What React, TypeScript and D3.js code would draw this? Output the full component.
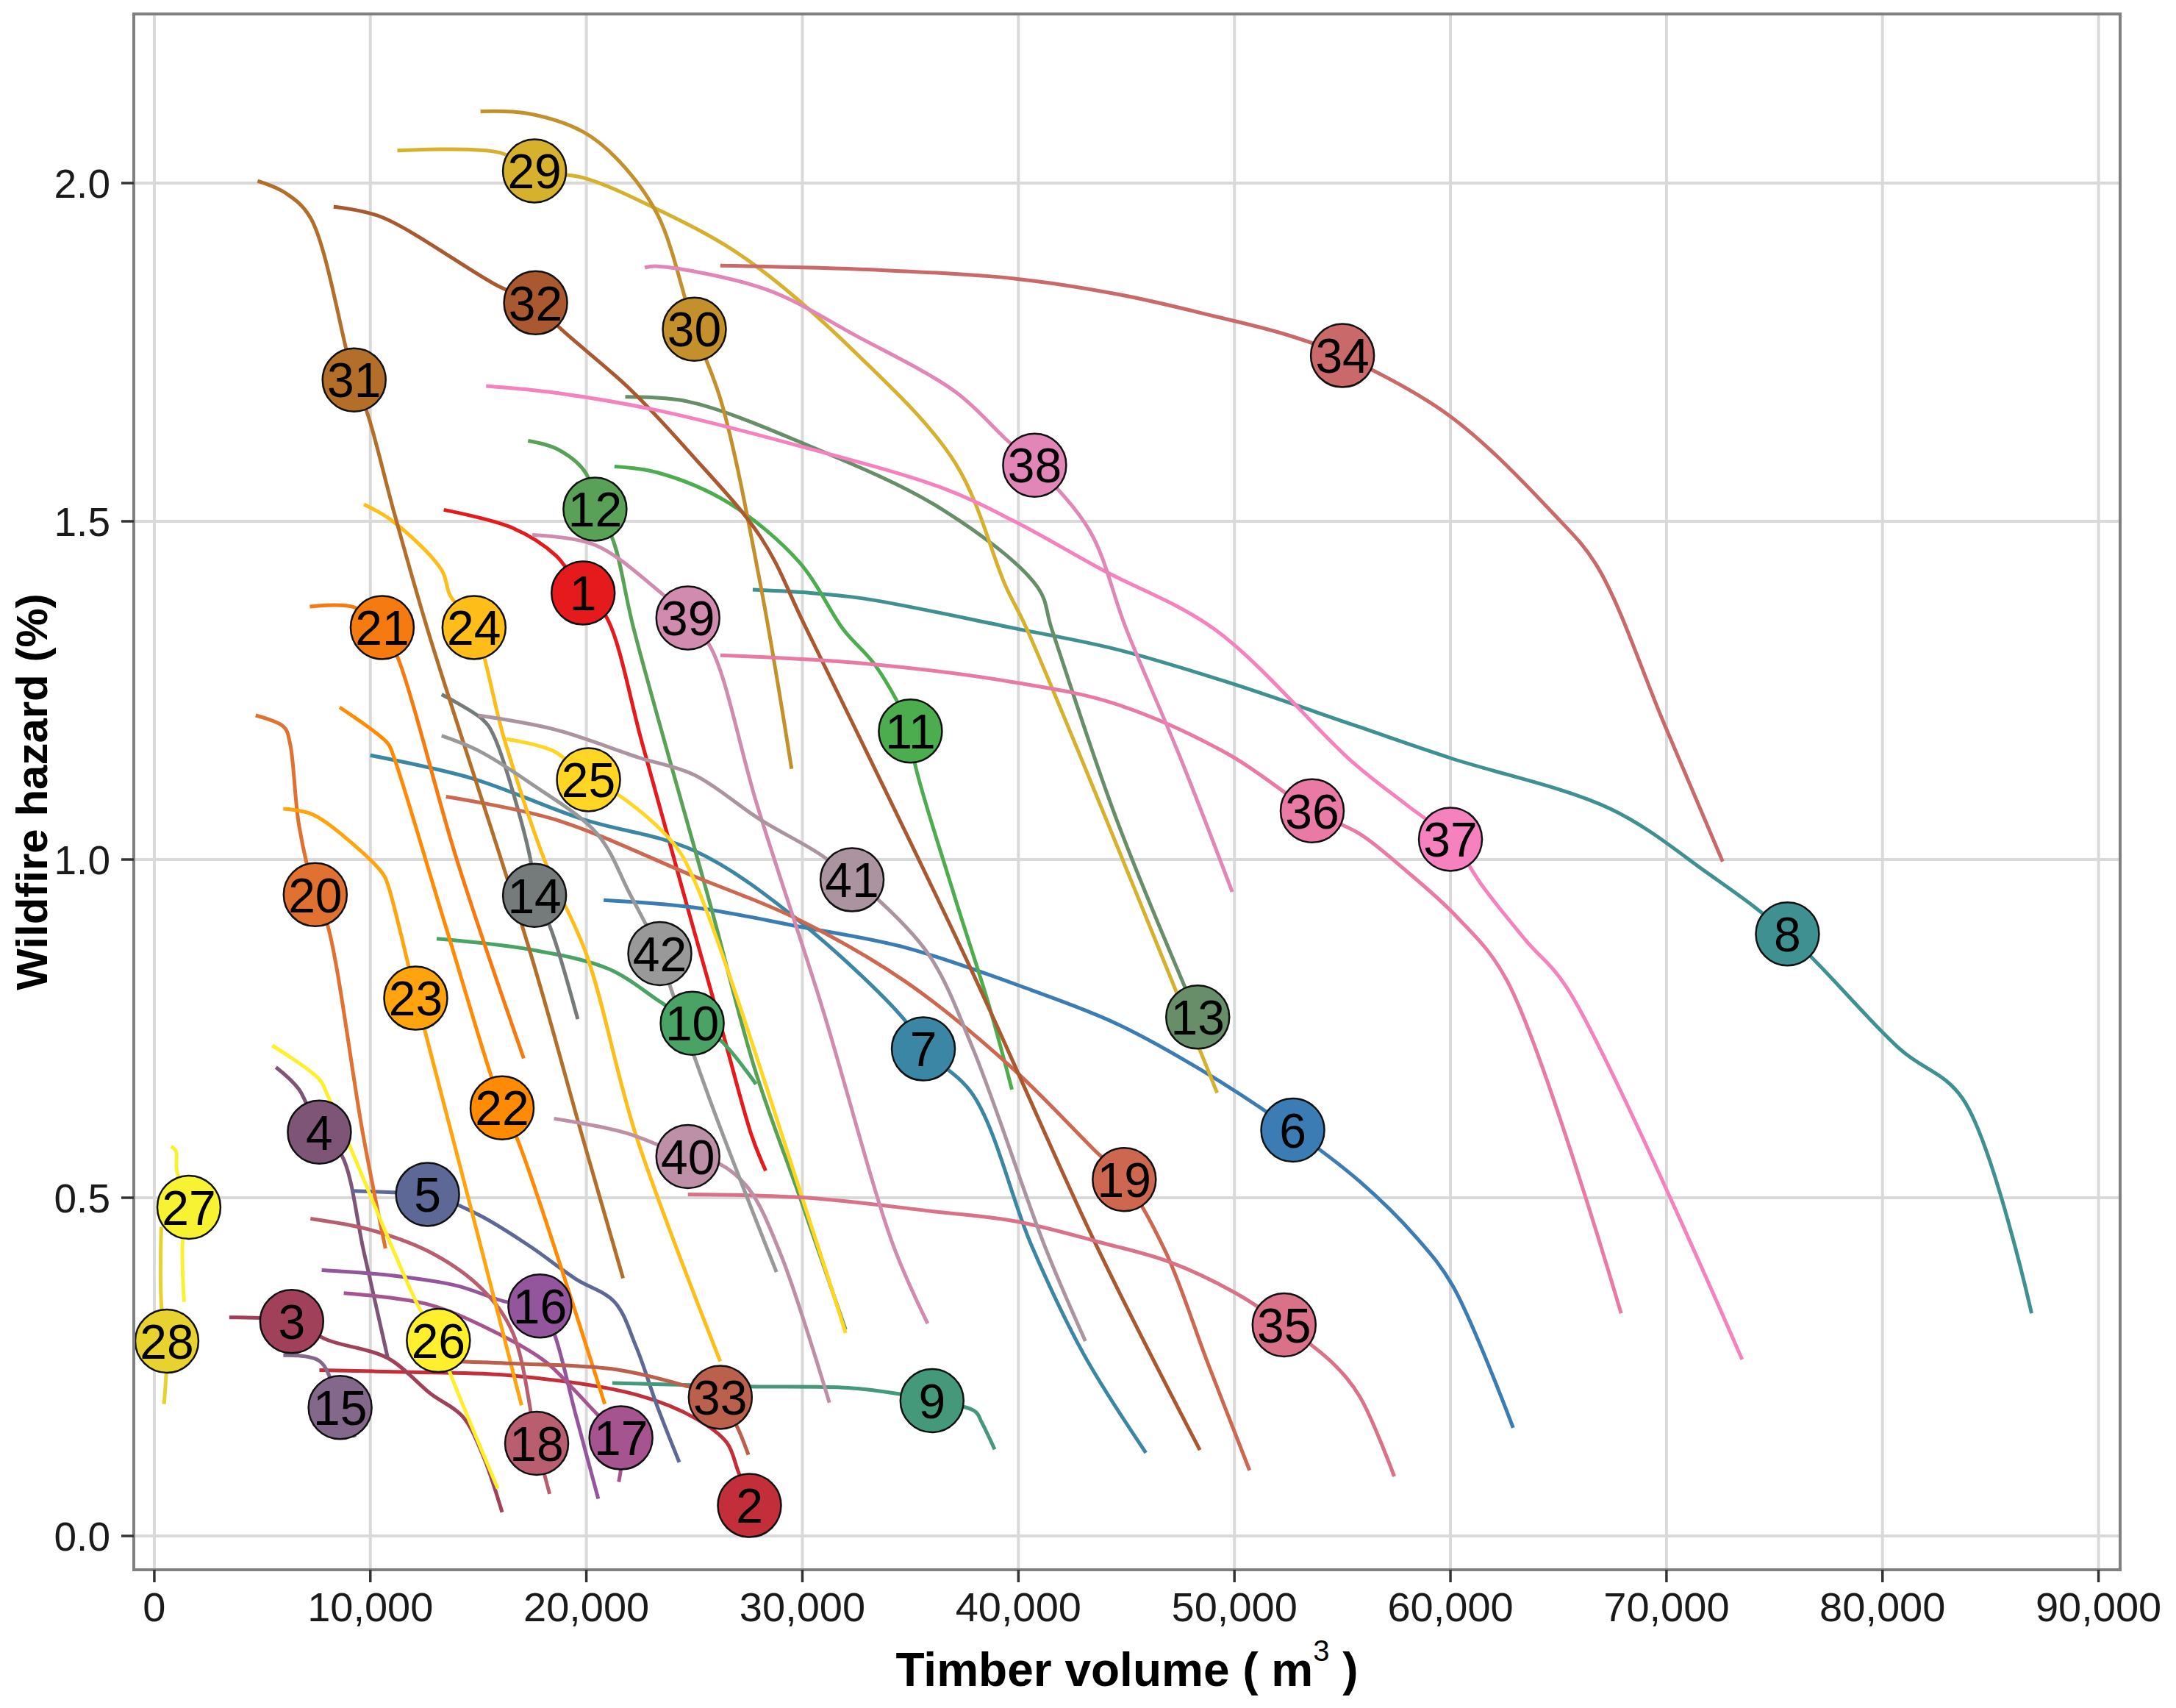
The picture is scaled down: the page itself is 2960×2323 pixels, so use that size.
import * as d3 from 'd3';

type Pt = [number, number];

// Tick values
const xTicks = [0, 10000, 20000, 30000, 40000, 50000, 60000, 70000, 80000, 90000];
const yTicks = [0, 0.5, 1, 1.5, 2];

// Curves: [timber volume m3, wildfire hazard %]
const c1: Pt[] = [[13400,1.517],[16600,1.49],[18600,1.449],[19850,1.394],[20900,1.36],[22600,1.17],[24500,0.95],[26350,0.74],[27650,0.592],[28300,0.54]];
const c2: Pt[] = [[7640,0.245],[12000,0.242],[16600,0.237],[22400,0.208],[25100,0.173],[26500,0.138],[27000,0.098],[27550,0.045]];
const c3: Pt[] = [[3470,0.323],[6360,0.317],[8000,0.29],[10800,0.263],[12800,0.21],[14260,0.177],[15200,0.12],[16100,0.035]];
const c4: Pt[] = [[5630,0.693],[6700,0.66],[7640,0.597],[8670,0.563],[9700,0.42],[10800,0.264]];
const c5: Pt[] = [[9120,0.51],[11000,0.508],[12650,0.505],[15000,0.475],[17400,0.428],[19500,0.38],[21300,0.346],[22300,0.28],[23300,0.19],[24300,0.109]];
const c6: Pt[] = [[20800,0.94],[25000,0.929],[30000,0.9],[34750,0.87],[40600,0.807],[44500,0.758],[48400,0.69],[52700,0.6],[55800,0.524],[58400,0.442],[60100,0.37],[62900,0.16]];
const c7: Pt[] = [[10000,1.154],[14700,1.12],[19800,1.06],[25000,1.013],[29700,0.913],[34700,0.764],[35600,0.72],[37900,0.652],[40600,0.43],[43000,0.27],[45900,0.123]];
const c8: Pt[] = [[27700,1.399],[30000,1.395],[32800,1.386],[39800,1.342],[44500,1.311],[49700,1.262],[55500,1.199],[60000,1.15],[67400,1.075],[71900,0.98],[75600,0.89],[80800,0.72],[83700,0.647],[86900,0.329]];
const c9: Pt[] = [[21200,0.226],[27500,0.221],[32100,0.219],[34450,0.21],[36000,0.2],[38000,0.184],[38300,0.168],[38900,0.128]];
const c10: Pt[] = [[13070,0.883],[17400,0.867],[21050,0.838],[23400,0.79],[24900,0.758],[26200,0.733],[27850,0.668]];
const c11: Pt[] = [[21300,1.581],[23300,1.572],[26600,1.527],[29900,1.438],[31900,1.34],[33400,1.286],[35000,1.19],[35200,1.143],[37000,0.95],[38650,0.783],[39700,0.66]];
const c12: Pt[] = [[17300,1.619],[18700,1.606],[20000,1.57],[20400,1.518],[21200,1.475],[22200,1.34],[25800,0.926],[27800,0.69],[30000,0.49],[32000,0.305]];
const c13: Pt[] = [[21800,1.684],[24700,1.677],[29900,1.617],[36500,1.517],[40900,1.402],[41550,1.34],[44500,1.063],[48300,0.767]];
const c14: Pt[] = [[13300,1.244],[15200,1.207],[15700,1.184],[17400,1.002],[17600,0.947],[18300,0.902],[19600,0.764]];
const c15: Pt[] = [[5970,0.267],[7670,0.258],[8600,0.19],[9300,0.146]];
const c16: Pt[] = [[7750,0.393],[11000,0.385],[14000,0.37],[16300,0.346],[17850,0.34],[18500,0.3],[19500,0.18],[20550,0.055]];
const c17: Pt[] = [[8770,0.359],[12600,0.343],[15550,0.305],[18100,0.258],[19400,0.217],[20500,0.18],[21600,0.145],[21500,0.08]];
const c18: Pt[] = [[7230,0.469],[10050,0.452],[12970,0.416],[15200,0.364],[16600,0.3],[17700,0.137],[18300,0.062]];
const c19: Pt[] = [[13500,1.093],[18560,1.059],[25000,0.975],[29700,0.913],[34750,0.82],[39600,0.695],[43500,0.571],[44900,0.527],[46800,0.421],[48750,0.257],[50700,0.097]];
const c20: Pt[] = [[4690,1.213],[6000,1.196],[6280,1.172],[6700,1.05],[7450,0.948],[8030,0.902],[9670,0.592],[10700,0.425]];
const c21: Pt[] = [[7200,1.374],[9250,1.373],[10550,1.343],[11300,1.296],[14000,1.0],[17100,0.706]];
const c22: Pt[] = [[8580,1.225],[10800,1.172],[11050,1.155],[13500,0.9],[16100,0.633],[16800,0.587],[20850,0.195]];
const c23: Pt[] = [[5970,1.075],[7300,1.067],[9300,1.02],[10600,0.978],[10800,0.964],[11700,0.852],[12100,0.795],[12500,0.75],[17000,0.193]];
const c24: Pt[] = [[9700,1.525],[11000,1.501],[13300,1.428],[13700,1.39],[14800,1.343],[16200,1.178],[18100,0.996],[20000,0.86],[22300,0.592],[26200,0.258]];
const c25: Pt[] = [[16300,1.178],[18500,1.16],[20100,1.118],[21600,1.093],[24000,1.025],[25000,0.969],[30700,0.43],[32000,0.3]];
const c26: Pt[] = [[5460,0.725],[7640,0.675],[8030,0.651],[9000,0.58],[12200,0.341],[13150,0.289],[13700,0.24],[15900,0.07]];
const c27: Pt[] = [[770,0.576],[1000,0.569],[1040,0.54],[1600,0.486],[1320,0.44],[1380,0.346]];
const c28: Pt[] = [[320,0.457],[330,0.34],[580,0.288],[450,0.195]];
const c29: Pt[] = [[11250,2.048],[16000,2.045],[17600,2.018],[19840,2.008],[23300,1.961],[27300,1.89],[32500,1.748],[37100,1.585],[39400,1.405],[40400,1.34],[49200,0.655]];
const c30: Pt[] = [[15100,2.106],[17270,2.103],[19840,2.076],[21440,2.035],[23300,1.953],[25000,1.784],[26260,1.675],[28050,1.408],[29500,1.134]];
const c31: Pt[] = [[4780,2.003],[6090,1.985],[7240,1.948],[9250,1.709],[9870,1.659],[11100,1.513],[12650,1.34],[17400,0.863],[19800,0.592],[21700,0.381]];
const c32: Pt[] = [[8300,1.965],[10500,1.95],[15900,1.848],[17650,1.823],[18700,1.788],[22000,1.696],[24800,1.601],[28100,1.475],[30200,1.34],[37700,0.845],[43600,0.43],[48400,0.127]];
const c33: Pt[] = [[14000,0.258],[16600,0.255],[21400,0.246],[24700,0.221],[26200,0.205],[27000,0.16],[27500,0.12]];
const c34: Pt[] = [[26200,1.878],[33200,1.872],[39750,1.859],[44700,1.835],[49100,1.803],[52500,1.775],[55000,1.745],[60000,1.655],[64800,1.51],[66800,1.433],[69900,1.2],[72600,0.997]];
const c35: Pt[] = [[24700,0.505],[30200,0.5],[36000,0.48],[39900,0.465],[43800,0.434],[47000,0.405],[50000,0.36],[52300,0.312],[54500,0.257],[55800,0.206],[57400,0.088]];
const c36: Pt[] = [[26200,1.302],[32800,1.29],[39800,1.262],[44500,1.23],[49700,1.156],[53600,1.072],[55800,1.038],[57700,0.99],[60300,0.915],[62600,0.822],[67900,0.329]];
const c37: Pt[] = [[15360,1.7],[18560,1.69],[23300,1.664],[29900,1.611],[36500,1.549],[39750,1.501],[43900,1.428],[49100,1.34],[55500,1.143],[58000,1.08],[60000,1.03],[61500,0.96],[63500,0.88],[65400,0.81],[73500,0.261]];
const c38: Pt[] = [[22700,1.875],[23300,1.877],[28300,1.843],[32500,1.774],[37100,1.691],[39400,1.622],[40750,1.583],[43300,1.486],[45000,1.34],[47500,1.15],[49900,0.952]];
const c39: Pt[] = [[17500,1.48],[20400,1.465],[23200,1.401],[24700,1.357],[25800,1.311],[27900,1.081],[30900,0.783],[34200,0.43],[35800,0.314]];
const c40: Pt[] = [[18500,0.617],[21800,0.596],[24700,0.561],[26100,0.551],[27500,0.514],[29000,0.416],[31250,0.197]];
const c41: Pt[] = [[15000,1.213],[18560,1.192],[22400,1.151],[25000,1.125],[28000,1.06],[30900,1.006],[32300,0.97],[33600,0.938],[35900,0.857],[37900,0.72],[41200,0.43],[43100,0.288]];
const c42: Pt[] = [[13300,1.183],[15000,1.161],[17400,1.113],[20500,1.038],[22000,0.95],[23400,0.861],[23800,0.82],[25700,0.646],[28800,0.39]];

const curves = [c1,c2,c3,c4,c5,c6,c7,c8,c9,c10,c11,c12,c13,c14,c15,c16,c17,c18,c19,c20,c21,c22,c23,c24,c25,c26,c27,c28,c29,c30,c31,c32,c33,c34,c35,c36,c37,c38,c39,c40,c41,c42];

// Label positions (numbered circles) for curves 1..42
const labelX = [19850,27550,6360,7640,12650,52700,35600,75600,36000,24900,35000,20400,48300,17600,8600,17850,21600,17700,44900,7450,10550,16100,12100,14800,20100,13150,1600,580,17600,25000,9250,17650,26200,55000,52300,53600,60000,40750,24700,24700,32300,23400];
const labelY = [1.394,0.045,0.317,0.597,0.505,0.6,0.72,0.89,0.2,0.758,1.19,1.518,0.767,0.947,0.19,0.34,0.145,0.137,0.527,0.948,1.343,0.633,0.795,1.343,1.118,0.289,0.486,0.288,2.018,1.784,1.709,1.823,0.205,1.745,0.312,1.072,1.03,1.583,1.357,0.561,0.97,0.861];

const W = 2960;
const H = 2323;
const panel = { left: 182, right: 2884, top: 19, bottom: 2135 };
const FONT = '"Liberation Sans", Arial, Helvetica, sans-serif';

export default function App() {
  const x = d3.scaleLinear().domain([-950, 91000]).range([panel.left, panel.right]);
  const y = d3.scaleLinear().domain([-0.05, 2.25]).range([panel.bottom, panel.top]);
  const ramp = d3.piecewise(d3.interpolateRgb, d3.schemeSet1 as string[]);
  const color = (i: number) => ramp(i / (curves.length - 1));
  const line = d3
    .line<Pt>()
    .x((d) => x(d[0]))
    .y((d) => y(d[1]))
    .curve(d3.curveCatmullRom.alpha(0.5));
  const fmtX = d3.format(',');
  const fmtY = d3.format('.1f');

  return (
    <div style={{ position: 'absolute', left: 0, top: 0 }}>
      <svg width={W} height={H} style={{ display: 'block', background: '#fff' }} fontFamily={FONT}>
        {/* grid */}
        {xTicks.map((t) => (
          <line key={'gx' + t} x1={x(t)} x2={x(t)} y1={panel.top} y2={panel.bottom} stroke="#d9d9d9" strokeWidth={4} />
        ))}
        {yTicks.map((t) => (
          <line key={'gy' + t} x1={panel.left} x2={panel.right} y1={y(t)} y2={y(t)} stroke="#d9d9d9" strokeWidth={4} />
        ))}

        {/* curves */}
        {curves.map((c, i) => (
          <path key={'c' + i} d={line(c) || ''} fill="none" stroke={color(i)} strokeWidth={5} strokeLinejoin="round" strokeLinecap="butt" />
        ))}

        {/* labels */}
        {labelX.map((lx, i) => (
          <g key={'l' + i} transform={`translate(${x(lx)},${y(labelY[i])})`}>
            <circle r={43} fill={color(i)} stroke="#111" strokeWidth={2.5} />
            <text textAnchor="middle" dy="0.36em" fontSize={66} fill="#000">
              {i + 1}
            </text>
          </g>
        ))}

        {/* panel border */}
        <rect
          x={panel.left}
          y={panel.top}
          width={panel.right - panel.left}
          height={panel.bottom - panel.top}
          fill="none"
          stroke="#808080"
          strokeWidth={4}
        />

        {/* x axis */}
        {xTicks.map((t) => (
          <g key={'tx' + t} transform={`translate(${x(t)},0)`}>
            <line y1={panel.bottom} y2={panel.bottom + 17} stroke="#333" strokeWidth={3.5} />
            <text y={2205} textAnchor="middle" fontSize={56} fill="#1a1a1a">
              {fmtX(t)}
            </text>
          </g>
        ))}

        {/* y axis */}
        {yTicks.map((t) => (
          <g key={'ty' + t} transform={`translate(0,${y(t)})`}>
            <line x1={panel.left - 17} x2={panel.left} stroke="#333" strokeWidth={3.5} />
            <text x={150} dy="0.36em" textAnchor="end" fontSize={55} fill="#1a1a1a">
              {fmtY(t)}
            </text>
          </g>
        ))}

        {/* axis titles */}
        <text x={(panel.left + panel.right) / 2} y={2293} textAnchor="middle" fontSize={64} fontWeight="bold" fill="#000">
          Timber volume ( m
          <tspan dy={-34} fontSize={40} fontWeight="normal">3</tspan>
          <tspan dy={34}> )</tspan>
        </text>
        <text
          transform={`translate(64,${(panel.top + panel.bottom) / 2}) rotate(-90)`}
          textAnchor="middle"
          fontSize={60}
          fontWeight="bold"
          fill="#000"
        >
          Wildfire hazard (%)
        </text>
      </svg>
    </div>
  );
}
